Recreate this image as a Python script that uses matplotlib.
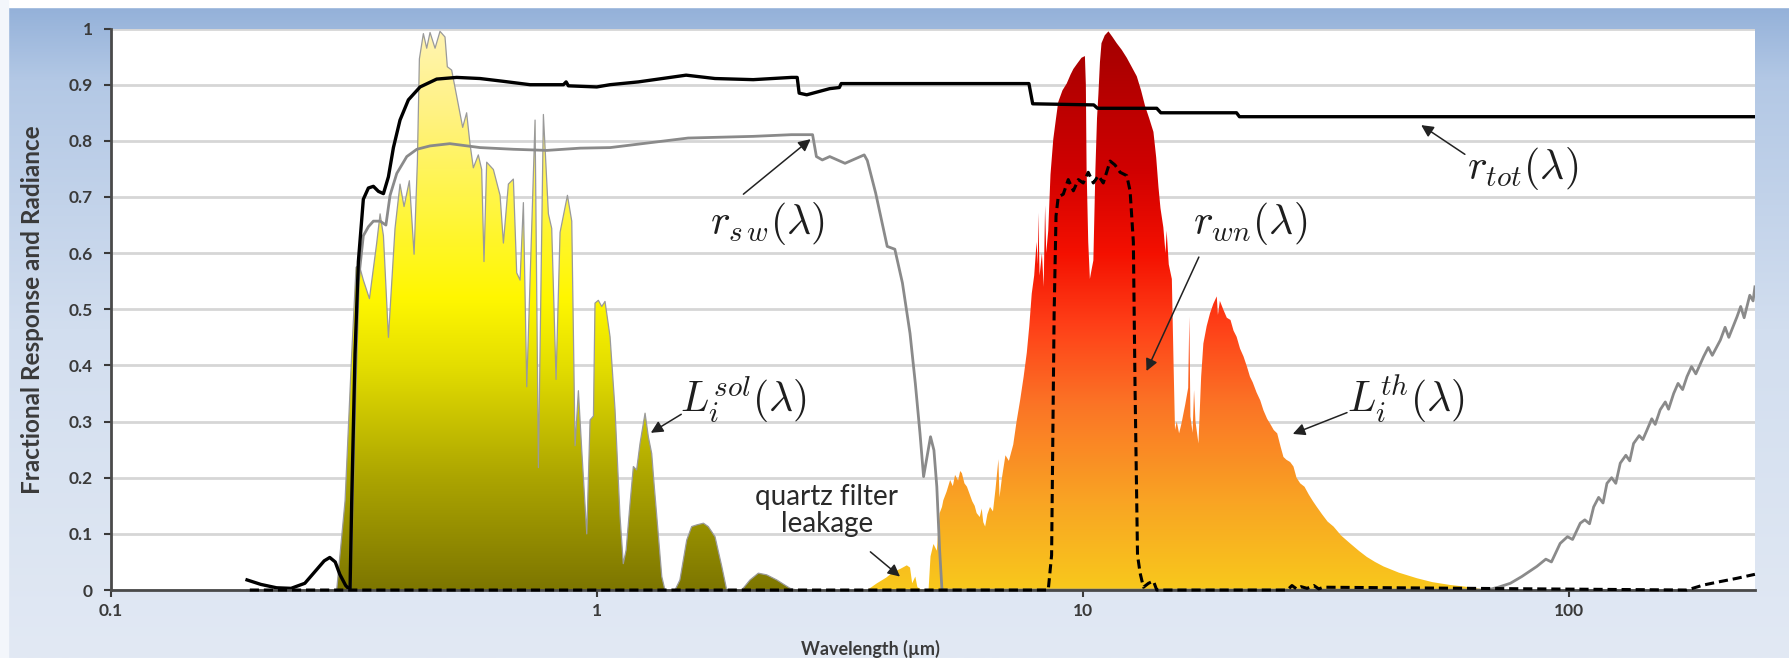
import numpy as np
import matplotlib
matplotlib.use("Agg")
import matplotlib.pyplot as plt
from matplotlib.colors import LinearSegmentedColormap
from matplotlib.patches import Rectangle

plt.rcParams['font.family'] = ['Lato', 'DejaVu Sans']
plt.rcParams['mathtext.fontset'] = 'cm'

# ---------------- data (wavelength in um) ----------------
# solar radiance L_i^sol
sol_wl = [0.2913, 0.3031, 0.3128, 0.3193, 0.3243, 0.3305, 0.3402, 0.3521, 0.3578, 0.3635,
          0.3722, 0.3840, 0.3932, 0.4008, 0.4110, 0.4203, 0.4269, 0.4310, 0.4392, 0.4462,
          0.4533, 0.4642, 0.4752, 0.4866, 0.4920, 0.5022, 0.5142, 0.5291, 0.5391, 0.5477,
          0.5565, 0.5698, 0.5789, 0.5853, 0.5928, 0.6119, 0.6316, 0.6417, 0.6570, 0.6727,
          0.6834, 0.6944, 0.7054, 0.7167, 0.7281, 0.7455, 0.7574, 0.7755, 0.7941, 0.8067,
          0.8234, 0.8392, 0.8691, 0.8870, 0.9010, 0.9154, 0.9299, 0.9524, 0.9675, 0.9830,
          0.9903, 1.0061, 1.0222, 1.0384, 1.0635, 1.0889, 1.1149, 1.1322, 1.1475, 1.1691,
          1.1876, 1.2061, 1.2257, 1.2553, 1.2749, 1.2955, 1.3097, 1.3271, 1.3587, 1.3793,
          1.4468, 1.4806, 1.5292, 1.5655, 1.6037, 1.6551, 1.6935, 1.7484, 1.8054, 1.8483,
          1.9846, 2.0639, 2.1469, 2.2341, 2.3423, 2.4949, 2.5746]
sol_val = [0.0, 0.159, 0.421, 0.575, 0.578, 0.552, 0.519, 0.618, 0.670, 0.631,
           0.450, 0.644, 0.723, 0.683, 0.729, 0.598, 0.762, 0.946, 0.991, 0.965,
           0.993, 0.965, 0.995, 0.985, 0.932, 0.926, 0.880, 0.824, 0.850, 0.795,
           0.752, 0.775, 0.749, 0.585, 0.762, 0.749, 0.703, 0.618, 0.723, 0.732,
           0.565, 0.552, 0.690, 0.362, 0.552, 0.837, 0.218, 0.847, 0.670, 0.644,
           0.375, 0.637, 0.703, 0.657, 0.257, 0.355, 0.250, 0.100, 0.303, 0.310,
           0.511, 0.516, 0.505, 0.514, 0.451, 0.321, 0.131, 0.047, 0.071, 0.154,
           0.220, 0.214, 0.261, 0.315, 0.273, 0.243, 0.190, 0.131, 0.024, 0.0,
           0.0, 0.018, 0.089, 0.113, 0.116, 0.119, 0.113, 0.095, 0.042, 0.0,
           0.0, 0.018, 0.030, 0.027, 0.018, 0.003, 0.0]

# thermal radiance L_i^th (incl. quartz filter leakage)
th_wl = [3.597, 3.765, 3.933, 4.067, 4.213, 4.337, 4.404, 4.449, 4.516, 4.561,
         4.662, 4.808, 4.853, 4.921, 5.000, 5.067, 5.124, 5.157, 5.236, 5.326,
         5.394, 5.451, 5.530, 5.586, 5.631, 5.699, 5.767, 5.846, 5.914, 5.982,
         6.038, 6.128, 6.185, 6.230, 6.286, 6.354, 6.433, 6.524, 6.603, 6.694,
         6.728, 6.807, 6.921, 7.034, 7.181, 7.295, 7.419, 7.544, 7.658, 7.748,
         7.839, 7.930, 8.021, 8.067, 8.090, 8.135, 8.226, 8.294, 8.351, 8.396,
         8.476, 8.567, 8.681, 8.794, 8.886, 9.068, 9.250, 9.421, 9.547, 9.730,
         9.924, 10.084, 10.129, 10.164, 10.244, 10.324, 10.404, 10.496, 10.599, 10.679,
         10.748, 10.828, 10.908, 11.080, 11.273, 11.491, 11.721, 12.008, 12.295, 12.582,
         12.892, 13.157, 13.410, 13.675, 13.951, 14.136, 14.287, 14.424, 14.621, 14.772,
         14.852, 15.002, 15.222, 15.349, 15.453, 15.580, 15.754, 15.927, 16.216, 16.447,
         16.539, 16.621, 16.794, 16.910, 17.026, 17.268, 17.489, 17.674, 17.952, 18.241,
         18.531, 18.832, 18.936, 19.111, 19.436, 19.749, 20.098, 20.388, 20.690, 21.027,
         21.376, 21.724, 22.039, 22.328, 22.737, 23.135, 23.496, 23.906, 24.257, 24.667,
         25.076, 25.487, 25.827, 26.191, 26.658, 27.081, 27.480, 27.962, 28.535, 29.124,
         29.710, 30.253, 31.004, 31.827, 32.746, 33.949, 35.424, 36.899, 38.331, 39.858,
         41.492, 44.598, 48.603, 52.326, 56.903, 62.554, 67.737]
th_val = [0.0, 0.012, 0.022, 0.032, 0.038, 0.044, 0.040, 0.012, 0.024, 0.005,
          0.0, 0.0, 0.060, 0.082, 0.070, 0.137, 0.148, 0.160, 0.175, 0.196,
          0.185, 0.205, 0.195, 0.212, 0.208, 0.190, 0.184, 0.170, 0.158, 0.150,
          0.137, 0.130, 0.145, 0.121, 0.113, 0.135, 0.148, 0.140, 0.180, 0.233,
          0.165, 0.200, 0.240, 0.230, 0.259, 0.300, 0.338, 0.380, 0.423, 0.470,
          0.528, 0.560, 0.620, 0.580, 0.672, 0.560, 0.600, 0.540, 0.685, 0.600,
          0.640, 0.740, 0.803, 0.840, 0.869, 0.890, 0.902, 0.918, 0.928, 0.938,
          0.948, 0.951, 0.900, 0.751, 0.620, 0.554, 0.570, 0.587, 0.750, 0.840,
          0.882, 0.940, 0.974, 0.988, 0.995, 0.985, 0.974, 0.962, 0.948, 0.932,
          0.915, 0.890, 0.862, 0.840, 0.816, 0.770, 0.718, 0.680, 0.646, 0.600,
          0.640, 0.580, 0.554, 0.400, 0.285, 0.300, 0.279, 0.296, 0.330, 0.360,
          0.487, 0.309, 0.280, 0.356, 0.300, 0.261, 0.380, 0.439, 0.470, 0.493,
          0.510, 0.523, 0.490, 0.515, 0.499, 0.485, 0.481, 0.462, 0.451, 0.430,
          0.416, 0.398, 0.380, 0.370, 0.352, 0.338, 0.320, 0.305, 0.296, 0.285,
          0.279, 0.255, 0.237, 0.232, 0.228, 0.220, 0.200, 0.190, 0.184, 0.170,
          0.158, 0.148, 0.135, 0.122, 0.113, 0.097, 0.083, 0.070, 0.059, 0.050,
          0.042, 0.031, 0.021, 0.014, 0.009, 0.005, 0.0]

# total response r_tot
rtot_wl = [0.1905, 0.2034, 0.2191, 0.2347, 0.2505, 0.2641, 0.2746, 0.2819, 0.2893, 0.2956,
           0.3040, 0.3103, 0.3128, 0.3177, 0.3228, 0.3305, 0.3385, 0.3466, 0.3550, 0.3635,
           0.3722, 0.3811, 0.3932, 0.4091, 0.4324, 0.4678, 0.5142, 0.5745, 0.6417, 0.7281,
           0.8526, 0.8637, 0.8730, 0.9986, 1.0628, 1.2160, 1.5248, 1.7484, 2.0952, 2.5118,
           2.5805, 2.6047, 2.7000, 3.0109, 3.1511, 3.1789, 7.7346, 7.8741, 10.518, 10.702,
           14.171, 14.448, 20.679, 20.968, 241.0]
rtot_val = [0.018, 0.010, 0.004, 0.003, 0.012, 0.035, 0.052, 0.058, 0.050, 0.028,
            0.008, 0.0, 0.159, 0.421, 0.585, 0.696, 0.716, 0.719, 0.710, 0.706,
            0.736, 0.788, 0.837, 0.873, 0.896, 0.910, 0.913, 0.911, 0.906, 0.900,
            0.900, 0.905, 0.898, 0.896, 0.900, 0.905, 0.917, 0.911, 0.909, 0.913,
            0.913, 0.885, 0.882, 0.893, 0.895, 0.902, 0.902, 0.866, 0.864, 0.858,
            0.858, 0.850, 0.850, 0.843, 0.843]

# shortwave response r_sw
rsw_wl = [0.3103, 0.3177, 0.3228, 0.3305, 0.3385, 0.3466, 0.3578, 0.3678, 0.3751, 0.3872,
          0.4060, 0.4258, 0.4533, 0.4979, 0.5745, 0.6727, 0.7880, 0.9227, 1.0639, 1.5391,
          2.0952, 2.5118, 2.7757, 2.8266, 2.9067, 3.0109, 3.2369, 3.5448, 3.5973, 3.7425,
          3.9527, 4.0981, 4.2481, 4.404, 4.516, 4.617, 4.696, 4.853, 4.932, 5.000,
          5.067, 5.124, 67.74, 71.46, 75.66, 79.87, 85.77, 89.51, 91.92, 95.79,
          99.18, 101.60, 105.36, 107.66, 110.09, 112.27, 114.94, 117.37, 119.57, 122.24,
          124.68, 127.35, 130.77, 133.20, 135.64, 139.30, 141.74, 144.55, 147.85, 150.29,
          153.84, 157.63, 160.08, 164.00, 167.44, 171.11, 174.67, 178.49, 182.17, 189.06,
          193.23, 196.93, 204.56, 209.25, 212.95, 221.47, 225.30, 229.01, 235.21, 238.91, 241.0]
rsw_val = [0.0, 0.350, 0.550, 0.631, 0.647, 0.657, 0.657, 0.650, 0.703, 0.742,
           0.772, 0.785, 0.791, 0.795, 0.788, 0.785, 0.783, 0.787, 0.788, 0.805,
           0.808, 0.811, 0.811, 0.772, 0.766, 0.772, 0.760, 0.775, 0.765, 0.707,
           0.612, 0.607, 0.547, 0.457, 0.368, 0.279, 0.202, 0.273, 0.249, 0.184,
           0.071, 0.0, 0.0, 0.005, 0.012, 0.024, 0.042, 0.055, 0.050, 0.083,
           0.095, 0.090, 0.119, 0.125, 0.118, 0.148, 0.165, 0.155, 0.190, 0.200,
           0.190, 0.226, 0.240, 0.230, 0.261, 0.275, 0.268, 0.285, 0.305, 0.295,
           0.321, 0.335, 0.322, 0.350, 0.368, 0.357, 0.380, 0.398, 0.385, 0.416,
           0.432, 0.418, 0.445, 0.468, 0.450, 0.487, 0.505, 0.485, 0.525, 0.515, 0.540]

# window response r_wn
rwn_wl = [0.193, 8.476, 8.612, 8.715, 8.794, 8.886, 9.102, 9.319, 9.547, 9.775,
          10.003, 10.244, 10.496, 10.748, 11.000, 11.365, 11.629, 11.916, 12.295, 12.490,
          12.685, 12.789, 12.938, 13.099, 13.306, 13.629, 13.951, 14.171, 26.31, 26.89,
          27.48, 28.07, 28.89, 29.83, 30.53, 31.24, 174.67, 189.06, 204.32, 221.59, 241.0]
rwn_val = [0.0, 0.0, 0.062, 0.490, 0.666, 0.700, 0.705, 0.731, 0.711, 0.731,
           0.725, 0.744, 0.725, 0.738, 0.725, 0.764, 0.757, 0.744, 0.738, 0.711,
           0.620, 0.357, 0.062, 0.030, 0.005, 0.012, 0.016, 0.0, 0.0, 0.008,
           0.002, 0.006, 0.003, 0.008, 0.002, 0.005, 0.0, 0.009, 0.015, 0.021, 0.028]

xticks = [0.1, 1, 10, 100]
xtick_labels = ['0.1', '1', '10', '100']
yticks = [0, 0.1, 0.2, 0.3, 0.4, 0.5, 0.6, 0.7, 0.8, 0.9, 1.0]
ytick_labels = ['0', '0.1', '0.2', '0.3', '0.4', '0.5', '0.6', '0.7', '0.8', '0.9', '1']

# ---------------- figure ----------------
fig = plt.figure(figsize=(17.9, 6.58), dpi=100)

# slide-style blue background
bg = fig.add_axes([0, 0, 1, 1], zorder=-10)
bg.axis('off')
bg_cmap = LinearSegmentedColormap.from_list(
    'bg', [(0, '#e2e9f4'), (0.5, '#d2deef'), (0.88, '#b3c8e5'), (1, '#91afd8')])
grad = np.linspace(0, 1, 256).reshape(-1, 1)
bg.imshow(grad, cmap=bg_cmap, aspect='auto', origin='lower', extent=[0, 1, 0, 1])
bg.add_patch(Rectangle((0, 0.989), 1, 0.011, color='white'))
bg.add_patch(Rectangle((0, 0), 0.0045, 1, color='#f3f6fb'))
bg.set_xlim(0, 1)
bg.set_ylim(0, 1)

ax = fig.add_axes([0.0620, 0.1033, 0.9184, 0.8533])
ax.set_facecolor('white')
ax.set_xscale('log')
ax.set_xlim(0.1, 241)
ax.set_ylim(0, 1)
ax.set_autoscale_on(False)

sol_cmap = LinearSegmentedColormap.from_list(
    'sol', [(0, '#7d7600'), (0.2, '#aca500'), (0.4, '#e4de00'), (0.52, '#fff700'),
            (0.7, '#fff548'), (0.85, '#fff282'), (1.0, '#fff4b4')])
th_cmap = LinearSegmentedColormap.from_list(
    'th', [(0, '#f8c81c'), (0.15, '#f9a623'), (0.33, '#fb7426'), (0.47, '#ff4018'),
           (0.6, '#f41000'), (0.75, '#d00000'), (1.0, '#a20000')])

# gradient-filled spectra, clipped to their outline
sol_poly = ax.fill(sol_wl, sol_val, facecolor='none', edgecolor='none', zorder=2)[0]
im = ax.imshow(grad, cmap=sol_cmap, aspect='auto', origin='lower', extent=[0, 1, 0, 1],
               transform=ax.transAxes, zorder=2, interpolation='bilinear')
im.set_clip_path(sol_poly)
ax.plot(sol_wl, sol_val, color='#9a9a9a', lw=0.9, zorder=2.5)

th_poly = ax.fill(th_wl, th_val, facecolor='none', edgecolor='none', zorder=2)[0]
im2 = ax.imshow(grad, cmap=th_cmap, aspect='auto', origin='lower', extent=[0, 1, 0, 1],
                transform=ax.transAxes, zorder=2, interpolation='bilinear')
im2.set_clip_path(th_poly)

ax.plot(rsw_wl, rsw_val, color='#8a8a8a', lw=2.0, zorder=4)
ax.plot(rtot_wl, rtot_val, color='black', lw=2.4, zorder=6)
ax.plot(rwn_wl, rwn_val, color='black', lw=2.2, ls=(0, (3, 1.6)), zorder=7.5, clip_on=False)

ax.set_xlim(0.1, 241)
ax.set_ylim(0, 1)

# axes styling
ax.set_xticks(xticks)
ax.set_xticklabels(xtick_labels)
ax.xaxis.set_minor_locator(matplotlib.ticker.NullLocator())
ax.set_yticks(yticks)
ax.set_yticklabels(ytick_labels)
ax.grid(axis='y', color='#d6d6d6', lw=2)
ax.set_axisbelow(True)
for s in ['top', 'right']:
    ax.spines[s].set_visible(False)
for s in ['left', 'bottom']:
    ax.spines[s].set_color('#4a4a4a')
    ax.spines[s].set_linewidth(2)
    ax.spines[s].set_zorder(7)
ax.tick_params(axis='y', length=5, width=1.5, color='#3a3a3a', pad=8, labelsize=12.5,
               labelcolor='#3a3a3a')
ax.tick_params(axis='x', length=5, width=1.5, color='#3a3a3a', pad=4, labelsize=12.5,
               labelcolor='#3a3a3a')
for lbl in ax.get_xticklabels() + ax.get_yticklabels():
    lbl.set_fontweight('bold')

ax.set_ylabel('Fractional Response and Radiance', fontsize=17.5, fontweight='bold',
              color='#3a3a3a')
ax.yaxis.set_label_coords(-0.041, 0.5)
ax.set_xlabel('Wavelength (\u00b5m)', fontsize=13, fontweight='bold', color='#3a3a3a')
ax.xaxis.set_label_coords(0.462, -0.088)

# annotations
arrow = dict(arrowstyle='-|>', color='#222222', lw=1.1, mutation_scale=18,
             shrinkA=0, shrinkB=0)
tcol = '#1e1e1e'
ax.text(2.24, 0.652, r'$r_{s\,w}(\lambda)$', fontsize=30, color=tcol, ha='center', va='center', zorder=8)
ax.annotate('', xy=(2.75, 0.803), xytext=(2.0, 0.705), arrowprops=arrow, zorder=8)

ax.text(80.0, 0.75, r'$r_{tot}(\lambda)$', fontsize=30, color=tcol, ha='center', va='center', zorder=8)
ax.annotate('', xy=(49.6, 0.828), xytext=(61.0, 0.776), arrowprops=arrow, zorder=8)

ax.text(22.1, 0.652, r'$r_{wn}(\lambda)$', fontsize=30, color=tcol, ha='center', va='center', zorder=8)
ax.annotate('', xy=(13.5, 0.39), xytext=(17.3, 0.593), arrowprops=arrow, zorder=8)

ax.text(2.0, 0.34, r'$L_i^{sol}(\lambda)$', fontsize=30, color=tcol, ha='center', va='center', zorder=8)
ax.annotate('', xy=(1.29, 0.28), xytext=(1.49, 0.313), arrowprops=arrow, zorder=8)

ax.text(46.2, 0.34, r'$L_i^{th}(\lambda)$', fontsize=30, color=tcol, ha='center', va='center', zorder=8)
ax.annotate('', xy=(27.0, 0.278), xytext=(34.9, 0.316), arrowprops=arrow, zorder=8)

ax.text(2.97, 0.142, 'quartz filter\nleakage', fontsize=20, color='#2a2a2a', ha='center',
        va='center', linespacing=1.05, zorder=8)
ax.annotate('', xy=(4.2, 0.024), xytext=(3.65, 0.068), arrowprops=arrow, zorder=8)

fig.savefig('out.png', dpi=100)
